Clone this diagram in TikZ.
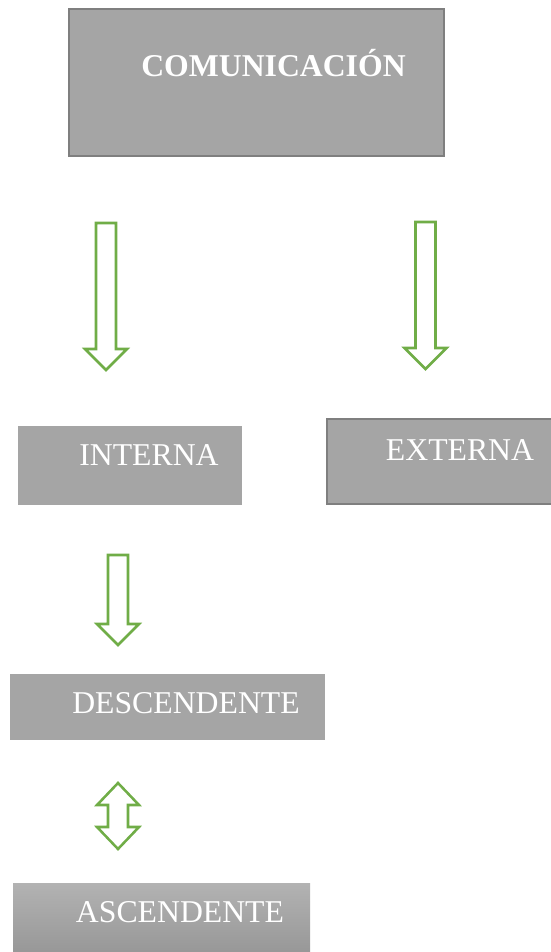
\documentclass[tikz,border=0pt]{standalone}
\usepackage{fontspec}
\setmainfont{Liberation Serif}
\usepackage{tikz}

\definecolor{boxgray}{HTML}{A5A5A5}
\definecolor{edgegray}{HTML}{7F7F7F}
\definecolor{arrowgreen}{HTML}{70AD47}

\begin{document}
\begin{tikzpicture}[x=0.75pt,y=-0.75pt,
  box/.style={fill=boxgray},
  framed/.style={box,draw=edgegray,line width=2.1pt},
  lbl/.style={text=white,anchor=base,inner sep=0pt,font=\fontsize{23.8}{28}\selectfont},
  blk/.style={draw=arrowgreen,line width=1.9pt,fill=white,line join=miter},
]

\useasboundingbox (0,0) rectangle (550,952);

% ------------------------------------------------------------------
% boxes
% ------------------------------------------------------------------
\filldraw[framed] (69,9) rectangle (444,156);
\node[lbl,font=\fontsize{23.8}{28}\selectfont\bfseries] (com) at (273.5,77) {COMUNICACIÓN};

\fill[box] (18,426) rectangle (242,505);
\node[lbl] (int) at (149,465) {INTERNA};

\filldraw[framed] (327,419) rectangle (555,504);
\node[lbl] (ext) at (460,460) {EXTERNA};

\fill[box] (10,674) rectangle (325,740);
\node[lbl] (des) at (186,713) {DESCENDENTE};

\shade[top color=boxgray!85!white,bottom color=boxgray!90!black] (13,883) rectangle (310,960);
\node[lbl] (asc) at (180,922) {ASCENDENTE};

% ------------------------------------------------------------------
% block arrows
% ------------------------------------------------------------------
\foreach \cx/\yt/\yb in {106/223/370, 425.5/222/369, 118/555/645}
  \draw[blk] (\cx-10,\yt) -- (\cx+10,\yt) -- (\cx+10,\yb-21)
    -- (\cx+21,\yb-21) -- (\cx,\yb) -- (\cx-21,\yb-21)
    -- (\cx-10,\yb-21) -- cycle;

\draw[blk] (118,783) -- (139,805) -- (128,805) -- (128,827) -- (139,827)
  -- (118,849) -- (97,827) -- (108,827) -- (108,805) -- (97,805) -- cycle;

\end{tikzpicture}
\end{document}
